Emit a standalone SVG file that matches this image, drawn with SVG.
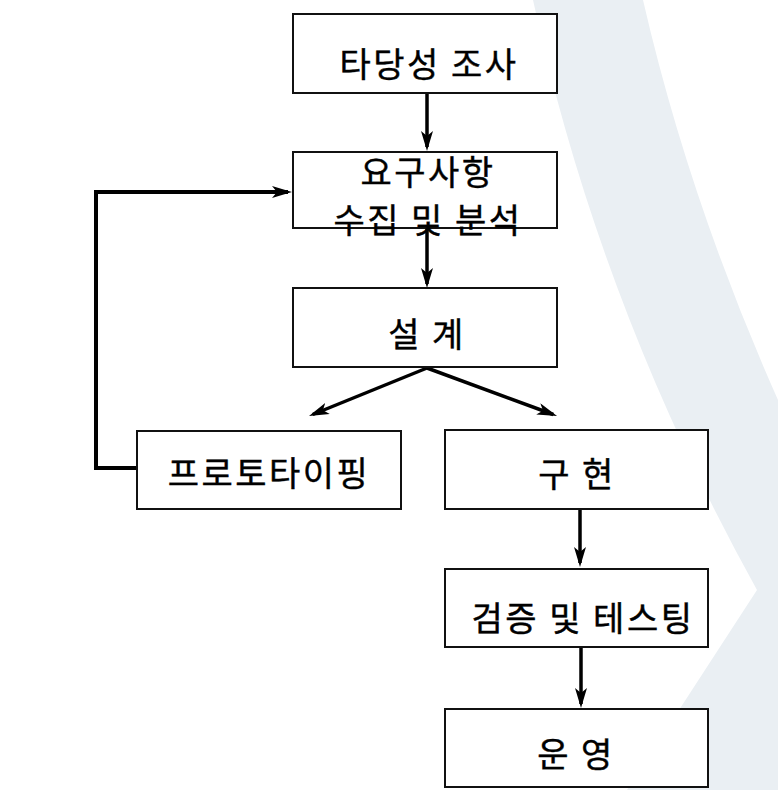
<svg xmlns="http://www.w3.org/2000/svg" width="778" height="790" viewBox="0 0 778 790">
<style>
.box{fill:#fff;stroke:#111;stroke-width:2}
.lbl{font-family:"Noto Sans CJK KR","Liberation Sans",sans-serif;font-size:34px;letter-spacing:2.5px;fill:#000;stroke:#000;stroke-width:0.4;text-anchor:middle}
.conn{fill:none;stroke:#000;stroke-width:3.5;marker-end:url(#arr)}
</style>
<defs>
<marker id="arr" viewBox="0 0 20 12" refX="16" refY="6" markerWidth="20" markerHeight="12" markerUnits="userSpaceOnUse" orient="auto">
<path d="M0,0 L20,6 L0,12 L5,6 Z" fill="#000"/>
</marker>
</defs>
<rect width="778" height="790" fill="#fff"/>
<path d="M533,0 L643,0 Q689,200 778,400 L778,790 L627,790 L757,590 Q599,305 533,0 Z" fill="#eaeff3"/>
<g id="connectors">
<line class="conn" x1="427" y1="94" x2="427" y2="147"/>
<line class="conn" x1="427" y1="228" x2="427" y2="284"/>
<line class="conn" x1="427" y1="368" x2="312.7" y2="414.5"/>
<line class="conn" x1="427" y1="368" x2="553.3" y2="414.5"/>
<path class="conn" d="M137,468 H96 V192 H288" style="stroke-width:4"/>
<line class="conn" x1="580" y1="510" x2="580" y2="563"/>
<line class="conn" x1="581" y1="648" x2="581" y2="704"/>
</g>
<g id="n1"><rect class="box" x="293" y="14" width="264" height="79"/><text class="lbl" x="429" y="77">타당성 조사</text></g>
<g id="n2"><rect class="box" x="293" y="152" width="264" height="76"/><text class="lbl" x="428" y="185">요구사항</text><text class="lbl" x="428" y="233">수집 및 분석</text></g>
<g id="n3"><rect class="box" x="293" y="288" width="264" height="79"/><text class="lbl" x="427" y="347">설 계</text></g>
<g id="n4"><rect class="box" x="137" y="431" width="264" height="78"/><text class="lbl" x="269" y="486">프로토타이핑</text></g>
<g id="n5"><rect class="box" x="445" y="430" width="263" height="79"/><text class="lbl" x="577" y="487">구 현</text></g>
<g id="n6"><rect class="box" x="445" y="569" width="263" height="78"/><text class="lbl" x="583" y="631">검증 및 테스팅</text></g>
<g id="n7"><rect class="box" x="445" y="709" width="263" height="78"/><text class="lbl" x="576" y="767">운 영</text></g>
</svg>
